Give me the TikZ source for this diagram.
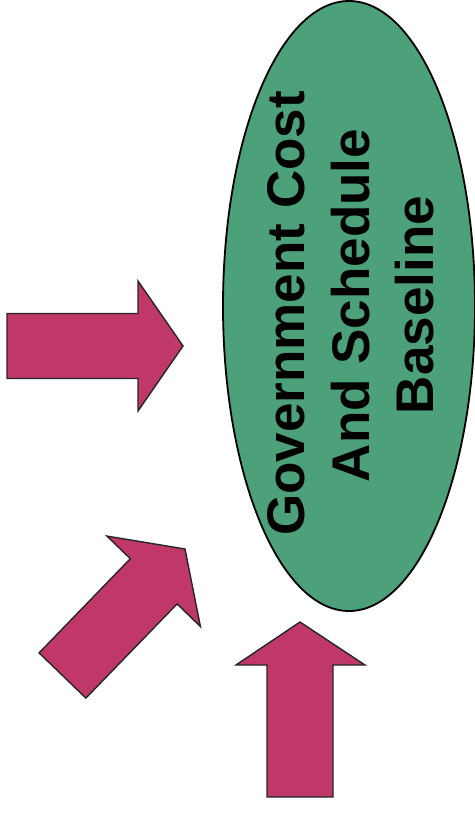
\documentclass[tikz,border=0pt]{standalone}
\usepackage{fontspec}
\setmainfont{Liberation Sans}
\usetikzlibrary{shapes.geometric}
\definecolor{arrowfill}{RGB}{192,56,106}
\definecolor{ovalfill}{RGB}{76,160,122}
\tikzset{
  blockarrow/.style={fill=arrowfill, draw=black!85, line width=1.4pt, line join=miter},
  oval/.style={ellipse, fill=ovalfill, draw=black, line width=1.8pt, inner sep=0pt},
  lbl/.style={anchor=base, rotate=90, inner sep=0pt, text=black,
    font=\bfseries\fontsize{53}{63.5}\selectfont}
}
\begin{document}
\begin{tikzpicture}[x=1pt, y=-1pt]
\useasboundingbox (0,0) rectangle (474,814);
\fill[white] (0,0) rectangle (474,814);
\node[oval, minimum width=252pt, minimum height=610pt] (base) at (349,306) {};
\node[lbl] (l1) at (304.5,313.5) {Government Cost};
\node[lbl] (l2) at (369.5,305.5) {And Schedule};
\node[lbl] (l3) at (433,305) {Baseline};
% right-pointing arrow
\draw[blockarrow] (7,313.5) -- (138,313.5) -- (138,281) -- (183,346) -- (138,411) -- (138,378.5) -- (7,378.5) -- cycle;
% diagonal arrow
\draw[blockarrow] (39.1,652.9) -- (130.3,558.7) -- (107,536.1) -- (185,549) -- (200.4,626.5) -- (177.1,603.9) -- (85.9,698.1) -- cycle;
% upward arrow
\draw[blockarrow] (267,797) -- (267,665) -- (236,665) -- (300,622) -- (365,665) -- (333,665) -- (333,797) -- cycle;
\end{tikzpicture}
\end{document}
